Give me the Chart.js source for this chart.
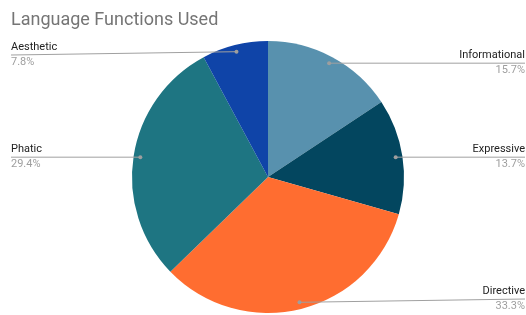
<!DOCTYPE html>
<html>
<head>
<meta charset="utf-8">
<script src="https://cdn.jsdelivr.net/npm/chart.js@4"></script>
<style>
  html, body { margin: 0; padding: 0; background: #fff; }
  #wrap { width: 526px; height: 315px; position: relative; }
</style>
</head>
<body>
<div id="wrap"><canvas id="pie"></canvas></div>
<script>
// Language functions, counts (51 total)
const labels = ['Informational', 'Expressive', 'Directive', 'Phatic', 'Aesthetic'];
const counts = [8, 7, 17, 15, 4];
const colors = ['#5891ae', '#03465f', '#ff6d30', '#1e7582', '#0f44a8'];

const FONT = "Roboto, 'Noto Sans', Arial, sans-serif";
const TITLE = 'Language Functions Used';

// ── Title + leader-line labels ────────────────────────────────────────────
const calloutPlugin = {
  id: 'callouts',
  afterDraw(chart) {
    const { ctx, width } = chart;
    const meta = chart.getDatasetMeta(0);
    const total = counts.reduce((a, b) => a + b, 0);

    ctx.save();
    ctx.fillStyle    = '#757575';
    ctx.font         = `18px ${FONT}`;
    ctx.textAlign    = 'left';
    ctx.textBaseline = 'alphabetic';
    ctx.fillText(TITLE, 11, 25);

    meta.data.forEach((arc, i) => {
      const { x, y, startAngle, endAngle, outerRadius } = arc.getProps(
        ['x', 'y', 'startAngle', 'endAngle', 'outerRadius'], true);
      const mid = (startAngle + endAngle) / 2;
      const dx = x + Math.cos(mid) * outerRadius * 0.95;
      const dy = y + Math.sin(mid) * outerRadius * 0.95;
      const right = Math.cos(mid) >= 0;
      const ly = Math.min(Math.max(dy, 55), 299);
      const ex = right ? width - 1 : 11;

      ctx.strokeStyle = '#a0a0a0';
      ctx.lineWidth = 1;
      ctx.beginPath();
      ctx.moveTo(dx, dy);
      ctx.lineTo(ex, ly);
      ctx.stroke();

      ctx.fillStyle = '#9e9e9e';
      ctx.beginPath();
      ctx.arc(dx, dy, 2, 0, Math.PI * 2);
      ctx.fill();

      ctx.textAlign = right ? 'right' : 'left';
      ctx.font = `11px ${FONT}`;
      ctx.fillStyle = '#222222';
      ctx.textBaseline = 'bottom';
      ctx.fillText(labels[i], ex, ly - 2);
      ctx.fillStyle = '#9e9e9e';
      ctx.textBaseline = 'top';
      ctx.fillText((counts[i] / total * 100).toFixed(1) + '%', ex, ly + 2);
    });
    ctx.restore();
  },
};

new Chart(document.getElementById('pie').getContext('2d'), {
  type: 'pie',
  data: {
    labels,
    datasets: [{
      data: counts,
      backgroundColor: colors,
      borderWidth: 0,
    }],
  },
  options: {
    responsive: true,
    maintainAspectRatio: false,
    animation: false,
    layout: { padding: { top: 41, bottom: 2, left: 132, right: 122 } },
    plugins: {
      legend:  { display: false },
      tooltip: { enabled: false },
    },
  },
  plugins: [calloutPlugin],
});
</script>
</body>
</html>
